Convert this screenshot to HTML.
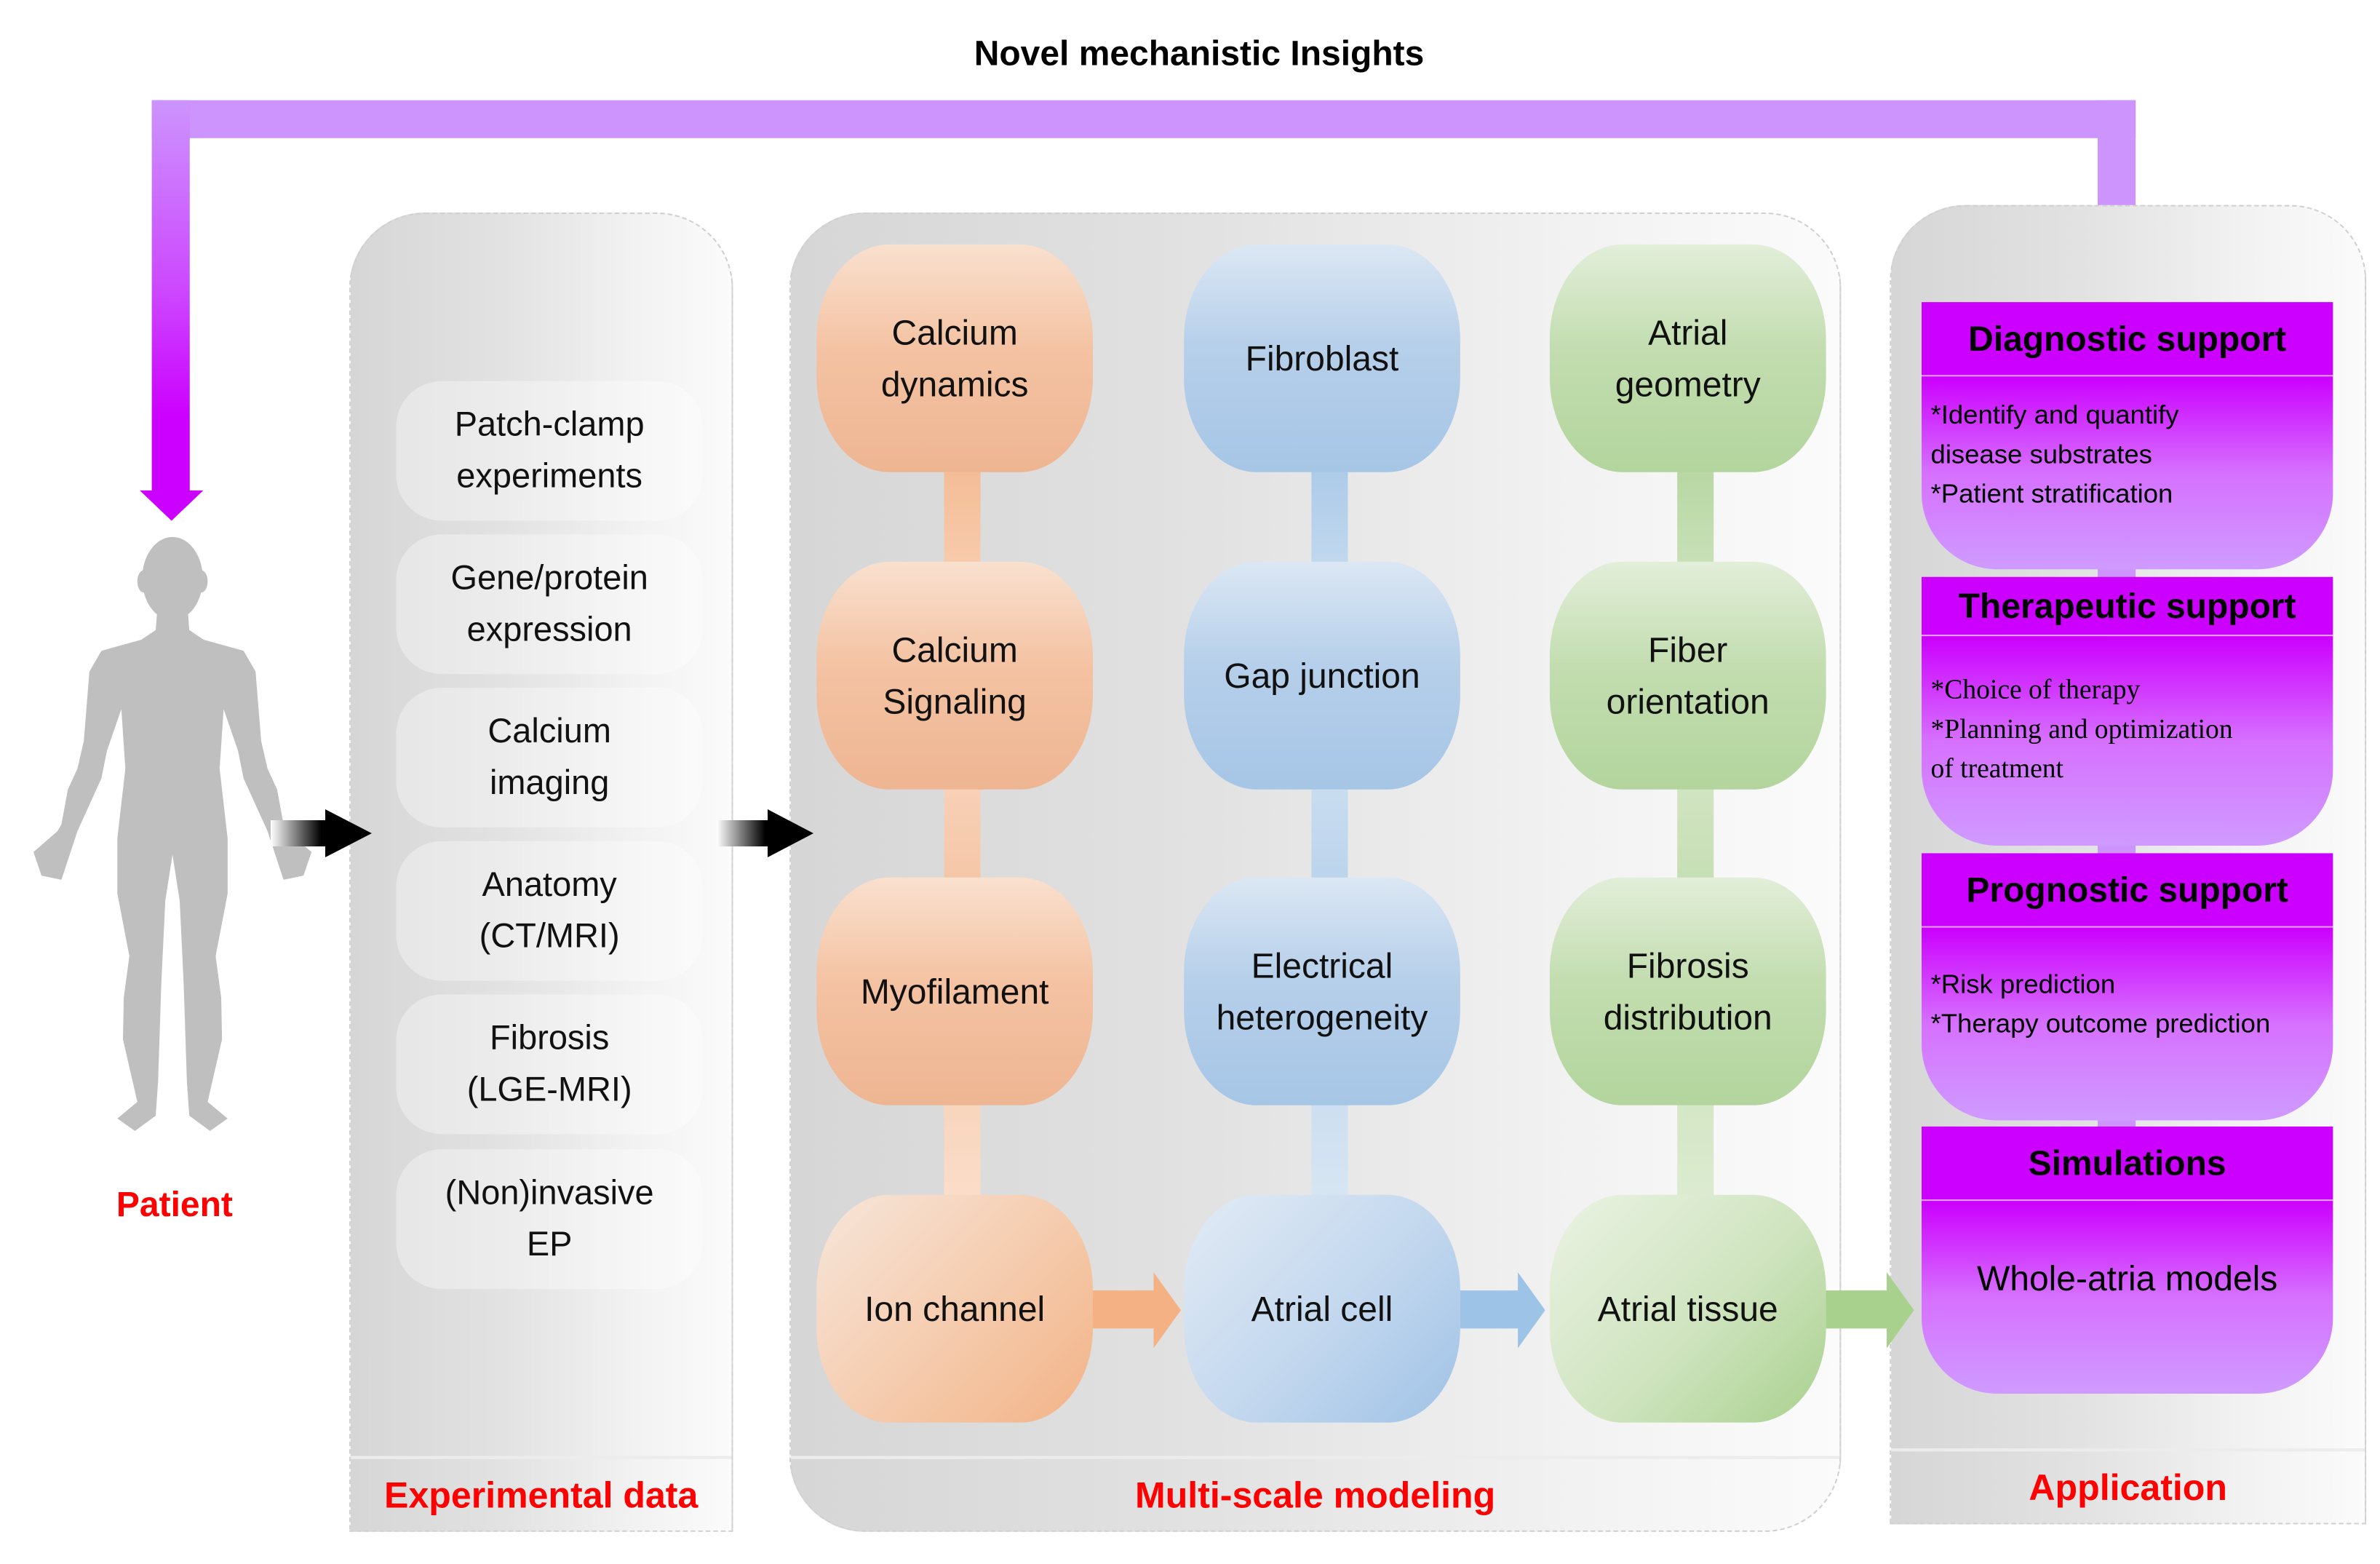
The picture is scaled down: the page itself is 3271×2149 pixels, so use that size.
<!DOCTYPE html>
<html><head><meta charset="utf-8">
<style>
html,body{margin:0;padding:0;background:#fff;}
body{width:3271px;height:2149px;overflow:hidden;position:relative;}
#c{position:absolute;left:0;top:0;width:1568px;height:1030px;transform:scale(2.0861);transform-origin:0 0;font-family:"Liberation Sans",sans-serif;}
.a{position:absolute;}
.panel{position:absolute;background:linear-gradient(90deg,#d6d6d6 0%,#e2e2e2 40%,#f2f2f2 75%,#fbfbfb 100%);border:1px dashed #d0d0d0;box-sizing:border-box;overflow:hidden;}
.strip{position:absolute;left:0;right:0;border-top:2px solid #ececec;color:#f00;font-weight:bold;font-size:24px;text-align:center;}
.item{position:absolute;left:30px;width:202px;height:92px;border-radius:30px;background:rgba(255,255,255,0.35);display:flex;align-items:center;justify-content:center;text-align:center;font-size:22.5px;line-height:34px;color:#111;}
.box{position:absolute;width:182px;height:150px;border-radius:48px/62px;display:flex;align-items:center;justify-content:center;text-align:center;font-size:23px;line-height:34px;color:#111;}
.o{background:linear-gradient(180deg,#f9e0cf 0%,#f4c3a3 45%,#eeb592 100%);}
.b{background:linear-gradient(180deg,#dbe7f4 0%,#b6cfea 45%,#a6c6e6 100%);}
.g{background:linear-gradient(180deg,#e2eed9 0%,#c3ddb0 45%,#b3d59d 100%);}
.o4{background:linear-gradient(135deg,#f7e6da 0%,#f5c8a8 60%,#f2b387 100%);}
.b4{background:linear-gradient(135deg,#e2ebf5 0%,#c2d7ee 55%,#9fc2e6 100%);}
.g4{background:linear-gradient(135deg,#ebf3e4 0%,#cfe4bf 55%,#a9d18e 100%);}
.conn{position:absolute;width:24px;}
.hd{position:absolute;left:1266px;width:271px;background:#cc00ff;font-weight:bold;font-size:23px;text-align:center;color:#000;border-bottom:1px solid #e39bff;box-sizing:border-box;}
.bd{position:absolute;left:1266px;width:271px;background:linear-gradient(180deg,#cc00ff 0%,#d670ff 50%,#cf9bff 100%);border-radius:0 0 50px 50px/0 0 50px 50px;box-sizing:border-box;padding:12px 6px;font-size:17.5px;line-height:26px;color:#000;}
</style></head><body>
<div id="c">
<div class="a" style="left:0;top:22px;width:1580px;text-align:center;font-weight:bold;font-size:23px;">Novel mechanistic Insights</div>
<!-- purple feedback -->
<div class="a" style="left:100px;top:66px;width:1307px;height:25px;background:#cc94fc;"></div>
<div class="a" style="left:100px;top:66px;width:25px;height:260px;background:linear-gradient(180deg,#cc94fc 0%,#cc44ff 50%,#cc00ff 80%);"></div>
<svg class="a" style="left:92px;top:323px" width="42" height="22"><path d="M0,0 H42 L21,20 Z" fill="#cc00ff"/></svg>
<div class="a" style="left:1382px;top:66px;width:25px;height:134px;background:#cc94fc;"></div>
<div class="a" style="left:70px;top:780px;width:90px;text-align:center;color:#f00;font-weight:bold;font-size:23px;">Patient</div>

<!-- experimental -->
<div class="panel" style="left:230px;top:140px;width:253px;height:869px;border-radius:50px 50px 0 0;">
<div class="item" style="top:110px">Patch-clamp<br>experiments</div>
<div class="item" style="top:211px">Gene/protein<br>expression</div>
<div class="item" style="top:312px">Calcium<br>imaging</div>
<div class="item" style="top:413px">Anatomy<br>(CT/MRI)</div>
<div class="item" style="top:514px">Fibrosis<br>(LGE-MRI)</div>
<div class="item" style="top:616px">(Non)invasive<br>EP</div>
<div class="strip" style="top:818px;height:51px;line-height:50px;">Experimental data</div>
</div>

<!-- multiscale -->
<div class="panel" style="left:520px;top:140px;width:693px;height:869px;border-radius:50px;">
<div class="strip" style="top:818px;height:51px;line-height:50px;">Multi-scale modeling</div>
</div>
<div class="conn" style="left:622px;top:290px;height:520px;background:linear-gradient(180deg,#f3b88f,#fbdcc6 30%,#f4c3a3 60%,#fbe0cd);"></div>
<div class="conn" style="left:864px;top:290px;height:520px;background:linear-gradient(180deg,#a6c6e6,#dae8f5 30%,#b6d0ea 60%,#dbe8f4);"></div>
<div class="conn" style="left:1105px;top:290px;height:520px;background:linear-gradient(180deg,#b3d59d,#dbeacf 30%,#c3ddb0 60%,#dfedd4);"></div>

<div class="box o" style="left:538px;top:161px">Calcium<br>dynamics</div>
<div class="box o" style="left:538px;top:370px">Calcium<br>Signaling</div>
<div class="box o" style="left:538px;top:578px">Myofilament</div>
<div class="box o4" style="left:538px;top:787px">Ion channel</div>
<div class="box b" style="left:780px;top:161px">Fibroblast</div>
<div class="box b" style="left:780px;top:370px">Gap junction</div>
<div class="box b" style="left:780px;top:578px">Electrical<br>heterogeneity</div>
<div class="box b4" style="left:780px;top:787px">Atrial cell</div>
<div class="box g" style="left:1021px;top:161px">Atrial<br>geometry</div>
<div class="box g" style="left:1021px;top:370px">Fiber<br>orientation</div>
<div class="box g" style="left:1021px;top:578px">Fibrosis<br>distribution</div>
<div class="box g4" style="left:1021px;top:787px">Atrial tissue</div>

<!-- application -->
<div class="panel" style="left:1245px;top:135px;width:314px;height:869px;border-radius:50px 50px 0 0;">
<div class="strip" style="top:818px;height:51px;line-height:50px;">Application</div>
</div>
<div class="a" style="left:1382px;top:370px;width:25px;height:12px;background:#cc94fc;"></div>
<div class="a" style="left:1382px;top:552px;width:25px;height:12px;background:#cc94fc;"></div>
<div class="a" style="left:1382px;top:733px;width:25px;height:12px;background:#cc94fc;"></div>

<div class="hd" style="top:199px;height:49px;line-height:48px;">Diagnostic support</div>
<div class="bd" style="top:248px;height:127px;">*Identify and quantify<br>disease substrates<br>*Patient stratification</div>
<div class="hd" style="top:380px;height:39px;line-height:38px;">Therapeutic support</div>
<div class="bd" style="top:419px;height:138px;padding-top:22px;font-family:'Liberation Serif',serif;font-size:18px;">*Choice of therapy<br>*Planning and optimization<br>of treatment</div>
<div class="hd" style="top:562px;height:49px;line-height:48px;">Prognostic support</div>
<div class="bd" style="top:611px;height:127px;padding-top:24px;">*Risk prediction<br>*Therapy outcome prediction</div>
<div class="hd" style="top:742px;height:49px;line-height:48px;">Simulations</div>
<div class="bd" style="top:791px;height:127px;padding-top:38px;text-align:center;font-size:23px;">Whole-atria models</div>

<svg class="a" style="left:0;top:0" width="1568" height="1030">
<path d="M720,850 H760 V838 L778,863 L760,888 V875 H720 Z" fill="#f4b183"/>
<path d="M962,850 H1000 V838 L1018,863 L1000,888 V875 H962 Z" fill="#9dc3e6"/>
<path d="M1203,850 H1243 V838 L1261,863 L1243,888 V875 H1203 Z" fill="#a9d18e"/>
</svg>
</div>
<svg class="a" style="left:0;top:0" width="3271" height="2149">
<defs>
<linearGradient id="bw" x1="0" x2="1"><stop offset="0" stop-color="#fff"/><stop offset="0.5" stop-color="#000"/><stop offset="1" stop-color="#000"/></linearGradient>
</defs>
<g fill="#bfbfbf" transform="translate(-3.4,-631.4) scale(1.098,1.907)">
<ellipse cx="219" cy="748" rx="38" ry="30"/>
<ellipse cx="183" cy="750" rx="8" ry="8"/><ellipse cx="255" cy="750" rx="8" ry="8"/>
<path d="M200,770 L198,785 L180,792 L130,800 L115,815 L108,865 L100,885 L88,900 L80,925 L75,930 L45,945 L55,962 L80,965 L100,930 L130,892 L137,872 L155,842 L160,885 L150,935 L150,975 L165,1020 L158,1050 L157,1080 L175,1125 L150,1137 L172,1146 L198,1135 L201,1110 L205,1040 L210,980 L219,947 L228,980 L233,1040 L237,1110 L240,1135 L266,1146 L288,1137 L263,1125 L281,1080 L280,1050 L273,1020 L288,975 L288,935 L278,885 L283,842 L301,872 L308,892 L338,930 L358,965 L383,962 L393,945 L363,930 L358,925 L350,900 L338,885 L330,865 L323,815 L308,800 L258,792 L240,785 L238,770 Z"/>
</g>
<path d="M372,1127 H447 V1112 L511,1145 L447,1178 V1163 H372 Z" fill="url(#bw)"/>
<path d="M985,1127 H1055 V1112 L1118,1145 L1055,1178 V1163 H985 Z" fill="url(#bw)"/>
</svg>
</body></html>
